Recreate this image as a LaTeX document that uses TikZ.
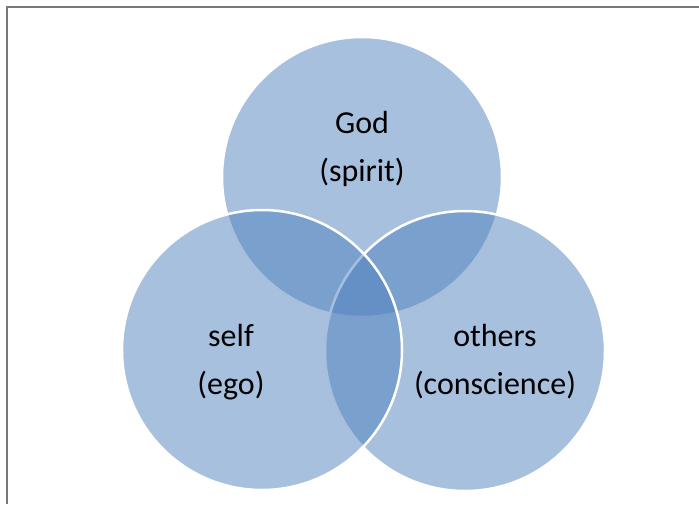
\documentclass[tikz,border=0pt]{standalone}
\usepackage{fontspec}
\setmainfont{Carlito}
\usetikzlibrary{positioning}
\definecolor{venn-blue}{RGB}{79, 129, 189}
\definecolor{frame-gray}{RGB}{120, 120, 120}

\begin{document}
\begin{tikzpicture}[x=1pt,y=-1pt,
    vennring/.style={circle, inner sep=0pt, minimum size=280pt, fill=venn-blue, fill opacity=0.5, draw=white, line width=2.5pt},
    venntext/.style={align=center, font=\fontsize{32}{48}\selectfont, text=black}]
\useasboundingbox (0,0) rectangle (699,504);
\draw[frame-gray, line width=2pt] (699,7) -- (7,7) -- (7,504);
% circles, top one first
\node[vennring] (god) at (362,177) {};
\node[vennring] (others) at (465,351) {};
\node[vennring] (self) at (262,350) {};
% labels
\node[venntext] (godtext) at (362,149) {God\\(spirit)};
\node[venntext] (selftext) at (231,362) {self\\(ego)};
\node[venntext] (otherstext) at (495,362) {others\\(conscience)};
\end{tikzpicture}
\end{document}
